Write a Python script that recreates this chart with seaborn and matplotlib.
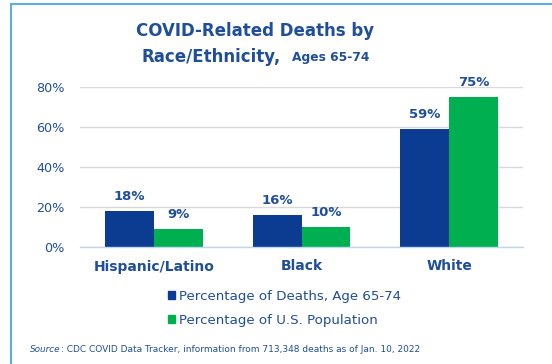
import matplotlib
matplotlib.use("Agg")
import matplotlib.pyplot as plt
import matplotlib.patches as mpatches
import matplotlib.transforms as mtransforms
import seaborn as sb
import pandas as pd

# data
groups = ["Hispanic/Latino", "Black", "White"]
deaths = [18, 16, 59]
population = [9, 10, 75]
series = ["Percentage of Deaths, Age 65-74", "Percentage of U.S. Population"]
yticks = [0, 20, 40, 60, 80]

navy = "#0B3C91"
green = "#00B050"
txt = "#1F4E9A"

df = pd.DataFrame({
    "Group": groups * 2,
    "Value": deaths + population,
    "Series": [series[0]] * 3 + [series[1]] * 3,
})

sb.set_style("white")
plt.rcParams["font.family"] = ["DejaVu Sans"]

fig = plt.figure(figsize=(5.52, 3.64), dpi=100)
# y range 0..80 mapped to 247..87 px
ax = fig.add_axes([80 / 552, 1 - 247 / 364, 443 / 552, 160 / 364])
sb.barplot(data=df, x="Group", y="Value", hue="Series", palette=[navy, green],
           width=0.66, ax=ax, legend=False, saturation=1, linewidth=0)
ax.set_ylim(0, 80)
ax.set_xlim(-0.5, 2.5)
ax.set_yticks(yticks)
ax.set_yticklabels([f"{v}%" for v in yticks], color=txt, fontsize=9.2)
ax.set_xticks(range(3))
ax.set_xticklabels(groups, color=txt, fontsize=10, fontweight="bold")
ax.tick_params(axis="both", length=0)
ax.tick_params(axis="y", pad=11)
ax.tick_params(axis="x", pad=9)
ax.set_xlabel("")
ax.set_ylabel("")
ax.yaxis.grid(True, color="#D9D9D9", linewidth=1)
ax.set_axisbelow(True)
for s in ["top", "right", "left"]:
    ax.spines[s].set_visible(False)
ax.spines["bottom"].set_color("#BDD7EE")
ax.spines["bottom"].set_linewidth(1)

for cont in ax.containers:
    ax.bar_label(cont, labels=[f"{v:.0f}%" for v in cont.datavalues], padding=6,
                 color=txt, fontsize=9.5, fontweight="bold")

# title
fig.text(255.5 / 552, 1 - 31 / 364, "COVID-Related Deaths by", ha="center", va="center",
         color=txt, fontsize=12, fontweight="bold")
fig.text(281 / 552, 1 - 57 / 364, "Race/Ethnicity,", ha="right", va="center",
         color=txt, fontsize=12, fontweight="bold")
fig.text(292 / 552, 1 - 58 / 364, "Ages 65-74", ha="left", va="center",
         color=txt, fontsize=8.8, fontweight="bold")

# legend
handles = [mpatches.Patch(color=navy, label=series[0]),
           mpatches.Patch(color=green, label=series[1])]
fig.legend(handles=handles, loc="upper left", bbox_to_anchor=(161 / 552, 1 - 283 / 364),
           frameon=False, fontsize=9.6, labelcolor=txt, handlelength=0.55, handleheight=0.55,
           handletextpad=0.3, labelspacing=0.85, borderpad=0)

# source line
src = fig.text(30 / 552, 1 - 349 / 364, "Source", style="italic", color=txt, fontsize=6.4, va="center")
fig.canvas.draw()
x_end = src.get_window_extent().x1
fig.text(x_end / fig.bbox.width, 1 - 349 / 364,
         ": CDC COVID Data Tracker, information from 713,348 deaths as of Jan. 10, 2022",
         color=txt, fontsize=6.5, va="center")

# outer frame
fig.patches.append(mpatches.Rectangle((11 / 552, -0.05), 1.0, 1 - 4 / 364 + 0.05,
                                      transform=fig.transFigure, fill=False,
                                      edgecolor="#5DADE2", linewidth=1.5))

fig.savefig("out.png", dpi=100)
